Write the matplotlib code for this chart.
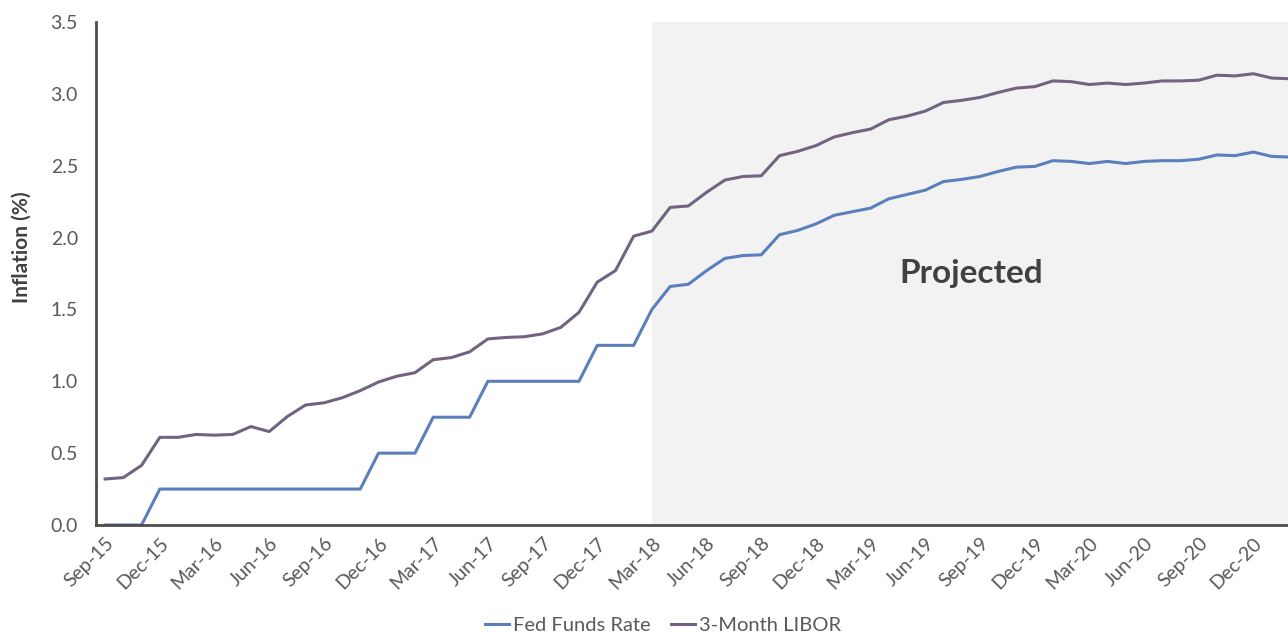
import matplotlib
matplotlib.use("Agg")
import matplotlib.pyplot as plt
from matplotlib.lines import Line2D

plt.rcParams['font.family'] = ['Lato', 'DejaVu Sans']

# Monthly observations, Sep-15 (index 0) through Feb-21 (index 65)
fed_funds = [0, 0, 0,
             0.25, 0.25, 0.25, 0.25, 0.25, 0.25, 0.25, 0.25, 0.25, 0.25, 0.25, 0.25,
             0.5, 0.5, 0.5,
             0.75, 0.75, 0.75,
             1.0, 1.0, 1.0, 1.0, 1.0, 1.0,
             1.25, 1.25, 1.25,
             1.5, 1.66, 1.675, 1.77, 1.855, 1.875, 1.88, 2.02, 2.05, 2.095,
             2.155, 2.18, 2.205, 2.27, 2.30, 2.33, 2.39, 2.405, 2.425, 2.46,
             2.49, 2.495, 2.535, 2.53, 2.515, 2.53, 2.515, 2.53, 2.535, 2.535,
             2.545, 2.575, 2.57, 2.595, 2.565, 2.56]

libor = [0.32, 0.33, 0.415, 0.61, 0.61, 0.63, 0.625, 0.63, 0.685, 0.65,
         0.755, 0.835, 0.85, 0.885, 0.935, 0.995, 1.035, 1.06, 1.15, 1.165,
         1.205, 1.295, 1.305, 1.31, 1.33, 1.375, 1.48, 1.69, 1.77, 2.01,
         2.045, 2.21, 2.22, 2.315, 2.40, 2.425, 2.43, 2.57, 2.60, 2.64,
         2.70, 2.73, 2.755, 2.82, 2.845, 2.88, 2.94, 2.955, 2.975, 3.01,
         3.04, 3.05, 3.09, 3.085, 3.065, 3.075, 3.065, 3.075, 3.09, 3.09,
         3.095, 3.13, 3.125, 3.14, 3.11, 3.105]

tick_labels = ['Sep-15', 'Dec-15', 'Mar-16', 'Jun-16', 'Sep-16', 'Dec-16',
               'Mar-17', 'Jun-17', 'Sep-17', 'Dec-17', 'Mar-18', 'Jun-18',
               'Sep-18', 'Dec-18', 'Mar-19', 'Jun-19', 'Sep-19', 'Dec-19',
               'Mar-20', 'Jun-20', 'Sep-20', 'Dec-20']

projection_start = 30  # Mar-18
y_ticks = [0.0, 0.5, 1.0, 1.5, 2.0, 2.5, 3.0, 3.5]

fed_color = '#5B7FBD'
libor_color = '#716481'
text_color = '#595959'
dark = '#404040'

fig = plt.figure(figsize=(12.88, 6.35), dpi=100)
ax = fig.add_axes([96 / 1288, 110 / 635, 1 - 96 / 1288, 503 / 635])

x = list(range(len(fed_funds)))
ax.axvspan(projection_start, len(fed_funds) + 5, ymin=0, ymax=1, color='#F2F2F2', zorder=0, lw=0)
ax.plot(x, fed_funds, color=fed_color, lw=2.2, zorder=3, solid_joinstyle='round')
ax.plot(x, libor, color=libor_color, lw=2.2, zorder=3, solid_joinstyle='round')

ax.text(47.5, 1.75, 'Projected', fontsize=24, fontweight='bold', color=dark,
        ha='center', va='center')

ax.set_xlim(-0.5, 64.9)
ax.set_ylim(0, 3.5)
ax.set_yticks(y_ticks)
ax.set_yticklabels([f'{v:.1f}' for v in y_ticks])
ax.set_xticks(list(range(0, 3 * len(tick_labels), 3)))
ax.set_xticklabels(tick_labels, rotation=45, ha='right', rotation_mode='anchor')

ax.tick_params(axis='both', length=0, colors=text_color)
ax.tick_params(axis='y', pad=13, labelsize=14)
ax.tick_params(axis='x', pad=7, labelsize=14)

for s in ['top', 'right']:
    ax.spines[s].set_visible(False)
for s in ['left', 'bottom']:
    ax.spines[s].set_color('#4D4D4D')
    ax.spines[s].set_linewidth(2.0)
    ax.spines[s].set_zorder(4)

fig.text(22 / 1288, (635 - 247) / 635, 'Inflation (%)', rotation=90, fontsize=15,
         fontweight='bold', color=dark, ha='center', va='center')

handles = [Line2D([0], [0], color=fed_color, lw=2.2),
           Line2D([0], [0], color=libor_color, lw=2.2)]
fig.legend(handles, ['Fed Funds Rate', '3-Month LIBOR'], loc='center',
           bbox_to_anchor=(663 / 1288, (635 - 625) / 635), ncol=2, frameon=False,
           fontsize=14.5, handlelength=1.2, handletextpad=0.2, columnspacing=1.0,
           labelcolor=text_color, borderaxespad=0, borderpad=0)

fig.savefig('out.png', dpi=100)
